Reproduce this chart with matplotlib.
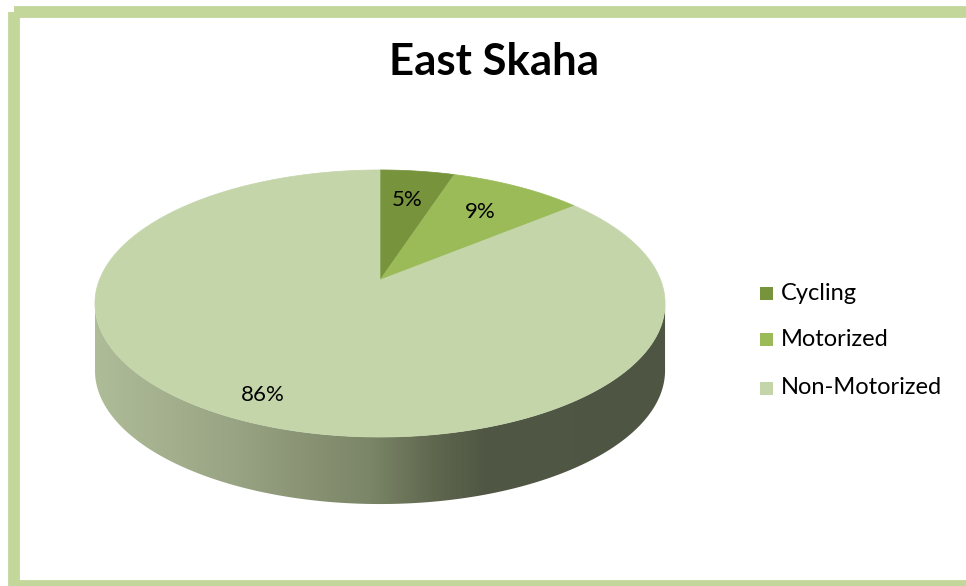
import numpy as np
import matplotlib
matplotlib.use('Agg')
import matplotlib.pyplot as plt
from matplotlib.patches import Polygon, Rectangle
from matplotlib.colors import LinearSegmentedColormap

# data
title = 'East Skaha'
categories = ['Cycling', 'Motorized', 'Non-Motorized']
shares = [5, 9, 86]
colors = ['#77933c', '#9bbb59', '#c4d5aa']

# geometry of the tilted pie, in pixels
cx, cy = 380, 280
A, B, k = 280.6, 129.4, 0.176   # perspective projection of the unit disc
depth = 67

plt.rcParams['font.family'] = ['Lato', 'DejaVu Sans']

fig = plt.figure(figsize=(9.66, 5.86), dpi=100)
ax = fig.add_axes([0, 0, 1, 1])
ax.set_xlim(0, 966)
ax.set_ylim(586, 0)
ax.axis('off')


def proj(t, r=1.0, dy=0.0):
    u = r * np.cos(t)
    v = r * np.sin(t)
    w = 1 + k * v
    return cx + A * u / w, cy - B * v / w + dy


# frame
ax.add_patch(Rectangle((13.5, 12), 1000, 574, fill=False, ec='#c4d79b', lw=8.5, zorder=0))

# side wall (front half of the rim)
t_left = np.pi + np.arcsin(k)
t_right = 2 * np.pi - np.arcsin(k)
ts = np.linspace(t_left, t_right, 300)
xt, yt = proj(ts)
xb, yb = proj(ts[::-1], dy=depth)
side = np.column_stack([np.concatenate([xt, xb]), np.concatenate([yt, yb])])
side_patch = Polygon(side, closed=True, fc='none', ec='none')
ax.add_patch(side_patch)

shade = LinearSegmentedColormap.from_list('shade', [
    (0.0, '#afbc98'), (0.25, '#98a383'), (0.48, '#7b8567'),
    (0.6, '#5e664e'), (0.68, '#505744'), (1.0, '#4e5542')])
grad = np.linspace(0, 1, 512).reshape(1, -1)
x0, x1 = xt.min(), xt.max()
im = ax.imshow(grad, cmap=shade, extent=[x0, x1, yb.max() + 2, yt.min() - 2],
               aspect='auto', zorder=1)
im.set_clip_path(side_patch)
ax.set_xlim(0, 966)
ax.set_ylim(586, 0)

# top face, slices clockwise from 12 o'clock
fracs = np.array(shares, dtype=float) / sum(shares)
start = np.pi / 2
mids = []
for frac, col in zip(fracs, colors):
    end = start - frac * 2 * np.pi
    tt = np.linspace(start, end, max(int(frac * 600), 10))
    px, py = proj(tt)
    pts = np.column_stack([np.concatenate([[cx], px]), np.concatenate([[cy], py])])
    ax.add_patch(Polygon(pts, closed=True, fc=col, ec=col, lw=0.5, zorder=2))
    mids.append((start + end) / 2)
    start = end

# percentage labels
label_r = [0.7, 0.7, 0.85]
for m, r, s in zip(mids, label_r, shares):
    lx, ly = proj(m, r=r)
    ax.text(lx, ly, f'{s}%', ha='center', va='center', fontsize=16, color='black', zorder=3)

ax.text(494, 62, title, ha='center', va='center', fontsize=31.5, fontweight='bold', zorder=3)

# legend
leg_y = [293, 339, 388]
for y, col, name in zip(leg_y, colors, categories):
    ax.add_patch(Rectangle((760, y - 6.5), 13, 13, fc=col, ec='none', zorder=3))
    ax.text(781, y, name, ha='left', va='center', fontsize=17, zorder=3)

fig.savefig('out.png', dpi=100)
